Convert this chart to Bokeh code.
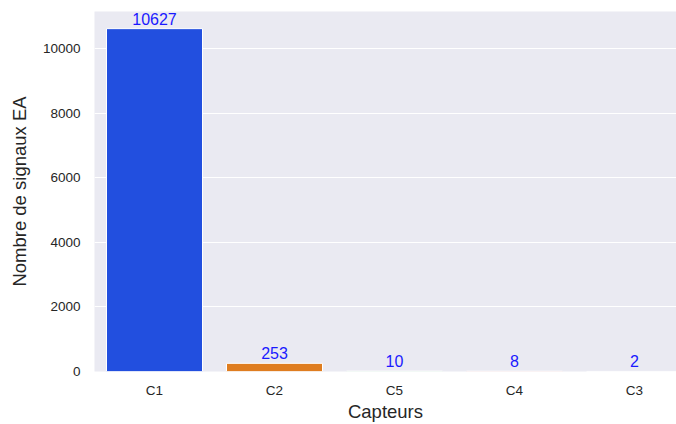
from bokeh.plotting import figure
from bokeh.models import ColumnDataSource, FixedTicker, Range1d
from bokeh.core.properties import value
from bokeh.embed import file_html
from bokeh.resources import INLINE

capteurs = ["C1", "C2", "C5", "C4", "C3"]
counts = [10627, 253, 10, 8, 2]
colors = ["#224FDF", "#DF7D20", "#30B346", "#CB1D25", "#8A42CB"]
y_ticks = [0, 2000, 4000, 6000, 8000, 10000]

xs = list(range(len(capteurs)))
src = ColumnDataSource(dict(x=xs, top=counts, color=colors,
                            label=[str(c) for c in counts]))

p = figure(width=676, height=424, output_backend="svg", toolbar_location=None,
           x_range=Range1d(-0.5, 4.35), y_range=Range1d(0, max(counts) * 1.05),
           min_border_left=94, min_border_right=0, min_border_top=11,
           min_border_bottom=52)
p.background_fill_color = "#EAEAF2"
p.border_fill_color = "white"
p.outline_line_color = None

p.vbar(x="x", top="top", width=0.8, bottom=0, color="color",
       line_color="white", line_width=1, source=src)
p.text(x="x", y="top", text="label", source=src, text_align="center",
       text_baseline="bottom", y_offset=-4, text_color="#1a1aff",
       text_font_size="16px", text_font=value("Liberation Sans"))

p.xgrid.grid_line_color = None
p.ygrid.grid_line_color = "white"
p.ygrid.grid_line_width = 1.2

p.xaxis.ticker = FixedTicker(ticks=xs)
p.xaxis.major_label_overrides = {i: c for i, c in zip(xs, capteurs)}
p.yaxis.ticker = FixedTicker(ticks=y_ticks)

for ax in (p.xaxis[0], p.yaxis[0]):
    ax.axis_line_color = None
    ax.major_tick_line_color = None
    ax.minor_tick_line_color = None
    ax.major_tick_out = 0
    ax.major_tick_in = 0
    ax.major_label_text_font = "Liberation Sans"
    ax.major_label_text_font_size = "13.5px"
    ax.major_label_text_color = "#262626"
    ax.axis_label_text_font = "Liberation Sans"
    ax.axis_label_text_font_size = "18.5px"
    ax.axis_label_text_font_style = "normal"
    ax.axis_label_text_color = "#262626"

p.xaxis.axis_label = "Capteurs"
p.yaxis.axis_label = "Nombre de signaux EA"
p.xaxis.major_label_standoff = 11
p.yaxis.major_label_standoff = 14
p.xaxis.axis_label_standoff = 0
p.yaxis.axis_label_standoff = 10

open("out.html", "w").write(file_html(p, INLINE))
